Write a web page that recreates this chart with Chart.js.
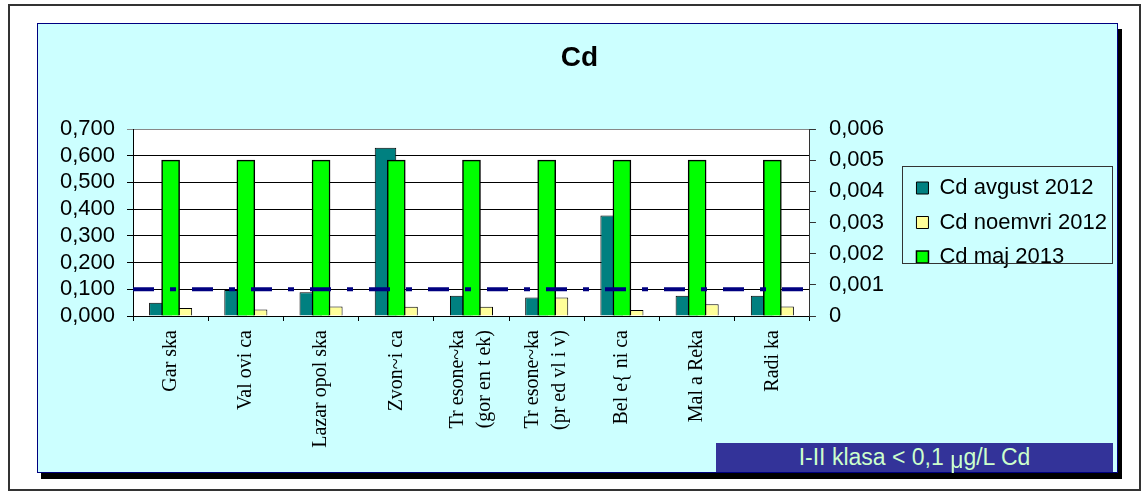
<!DOCTYPE html>
<html><head><meta charset="utf-8">
<script src="https://cdn.jsdelivr.net/npm/chart.js@4.4.0/dist/chart.umd.min.js"></script>
<style>
html,body{margin:0;padding:0;background:#fff;width:1145px;height:496px;overflow:hidden;}
#outer{position:absolute;left:8px;top:4px;width:1129px;height:483px;border:2px solid #333;}
#panel{position:absolute;left:37px;top:23px;width:1079px;height:448px;background:#ccffff;border:1px solid #000080;box-shadow:4px 6px 0 #000;}
#chart{position:absolute;left:38px;top:24px;}
#note{position:absolute;left:716px;top:443px;width:397px;height:29px;background:#333399;color:#ccffcc;font:23px 'Liberation Sans',Arial,sans-serif;line-height:29px;text-align:center;white-space:nowrap;}
#note .mu{position:relative;top:3px;}
</style></head>
<body>
<div id="outer"></div>
<div id="panel"></div>
<canvas id="chart" width="1079" height="448"></canvas>
<div id="note">I-II klasa &lt; 0,1 <span class="mu">μ</span>g/L Cd</div>
<script>
const categories = ['Gar ska', 'Val ovi ca', 'Lazar opol ska', 'Zvon~i ca',
  ['Tr esone~ka', '(gor en t ek)'], ['Tr esone~ka', '(pr ed vl i v)'],
  'Bel e{ ni ca', 'Mal a Reka', 'Radi ka'];
const seriesNames = ['Cd avgust 2012', 'Cd noemvri 2012', 'Cd maj 2013'];
const cdAvgust2012 = [0.050, 0.097, 0.089, 0.630, 0.076, 0.069, 0.376, 0.076, 0.076];
const cdNoemvri2012 = [0.030, 0.024, 0.036, 0.035, 0.035, 0.069, 0.022, 0.044, 0.036];
const cdMaj2013 = [0.005, 0.005, 0.005, 0.005, 0.005, 0.005, 0.005, 0.005, 0.005];
const thresholdLevel = [0.1, 0.1];
const leftTickLabels = ['0,000', '0,100', '0,200', '0,300', '0,400', '0,500', '0,600', '0,700'];
const rightTickLabels = ['0', '0,001', '0,002', '0,003', '0,004', '0,005', '0,006'];

const plotBg = {
  id: 'plotBg',
  beforeDraw(chart) {
    const {ctx, chartArea: a} = chart;
    ctx.save();
    ctx.fillStyle = '#ffffff';
    ctx.fillRect(a.left, a.top, a.right - a.left, a.bottom - a.top);
    ctx.restore();
  }
};
// center multi-line rotated category labels on their tick
const centerMultiline = {
  id: 'centerMultiline',
  beforeDraw(chart) {
    const items = chart.scales.x.getLabelItems();
    items.forEach(it => {
      if (Array.isArray(it.label) && !it._centered) {
        it.textOffset -= it.font.lineHeight * (it.label.length - 1) / 2;
        it._centered = true;
      }
    });
  }
};
const legendFrame = {
  id: 'legendFrame',
  afterDraw(chart) {
    const hb = chart.legend && chart.legend.legendHitBoxes;
    if (!hb || !hb.length) return;
    let l = Infinity, t = Infinity, r = -Infinity, b = -Infinity;
    hb.forEach(h => { l = Math.min(l, h.left); t = Math.min(t, h.top); r = Math.max(r, h.left + h.width); b = Math.max(b, h.top + h.height); });
    const ctx = chart.ctx;
    ctx.save();
    ctx.strokeStyle = '#333';
    ctx.lineWidth = 1;
    const x0 = Math.round(l - 14.5), y0 = Math.round(t - 11);
    const x1 = Math.round(r + 5), y1 = Math.round(b - 5);
    ctx.strokeRect(x0 + 0.5, y0 + 0.5, x1 - x0, y1 - y0);
    ctx.restore();
  }
};

new Chart(document.getElementById('chart'), {
  type: 'bar',
  data: {
    labels: categories,
    datasets: [
      {type: 'line', label: 'I-II klasa', data: thresholdLevel.map((v, i) => ({x: i, y: v})),
       xAxisID: 'xl', yAxisID: 'y', borderColor: '#000080', borderWidth: 4, borderDash: [21, 16, 6, 16],
       borderCapStyle: 'butt', pointRadius: 0, fill: false, order: 0},
      {label: seriesNames[0], data: cdAvgust2012, backgroundColor: '#008080', borderColor: '#000', borderWidth: 1,
       xAxisID: 'x', yAxisID: 'y', order: 2, categoryPercentage: 1.145, barPercentage: 1},
      {label: seriesNames[1], data: cdNoemvri2012, backgroundColor: '#ffff99', borderColor: '#000', borderWidth: 1,
       xAxisID: 'x', yAxisID: 'y', order: 3, categoryPercentage: 1.145, barPercentage: 1},
      {label: seriesNames[2], data: cdMaj2013, backgroundColor: '#00ff00', borderColor: '#000', borderWidth: 1.5,
       xAxisID: 'x', yAxisID: 'y1', order: 1, grouped: false, barThickness: 18}
    ]
  },
  options: {
    responsive: false,
    animation: false,
    devicePixelRatio: 1,
    layout: {padding: {left: 4, right: 0, top: 0, bottom: 0}},
    plugins: {
      title: {display: true, text: 'Cd', color: '#000',
        font: {family: 'Liberation Sans', size: 28, weight: 'bold'}, padding: {top: 17, bottom: 54.4}},
      legend: {position: 'right', fullSize: false, maxWidth: 300,
        labels: {color: '#000', font: {family: 'Liberation Sans', size: 22}, boxWidth: 12, boxHeight: 12, padding: 12.5,
          filter: (it) => it.datasetIndex > 0, sort: (a, b) => a.datasetIndex - b.datasetIndex}},
      tooltip: {enabled: false}
    },
    scales: {
      x: {type: 'category', offset: true,
        grid: {offset: true, drawOnChartArea: false, drawTicks: true, tickLength: 5, color: '#000'},
        border: {color: '#000'},
        ticks: {autoSkip: false, maxRotation: 90, minRotation: 90, padding: 9, color: '#000',
          font: {family: 'Liberation Serif', size: 20, lineHeight: 1.35}},
        afterFit: (s) => { s.height = 156; }},
      xl: {type: 'linear', display: false, min: 0, max: 1, offset: false},
      y: {position: 'left', min: 0, max: 0.7,
        ticks: {stepSize: 0.1, autoSkip: false, padding: 12, color: '#000', font: {family: 'Liberation Sans', size: 22},
          callback: (v, i) => leftTickLabels[i]},
        grid: {color: (c) => (c.tick && c.tick.value > 0.69) ? '#888' : '#000', tickLength: 6},
        border: {color: '#000'},
        afterFit: (s) => { s.width = 91; }},
      y1: {position: 'right', min: 0, max: 0.006,
        ticks: {stepSize: 0.001, autoSkip: false, padding: 13, color: '#000', font: {family: 'Liberation Sans', size: 22},
          callback: (v, i) => rightTickLabels[i]},
        grid: {drawOnChartArea: false, tickLength: 6, color: '#333'},
        border: {color: '#333'},
        afterFit: (s) => { s.width = 94; }}
    }
  },
  plugins: [plotBg, centerMultiline, legendFrame]
});
</script>
</body></html>
